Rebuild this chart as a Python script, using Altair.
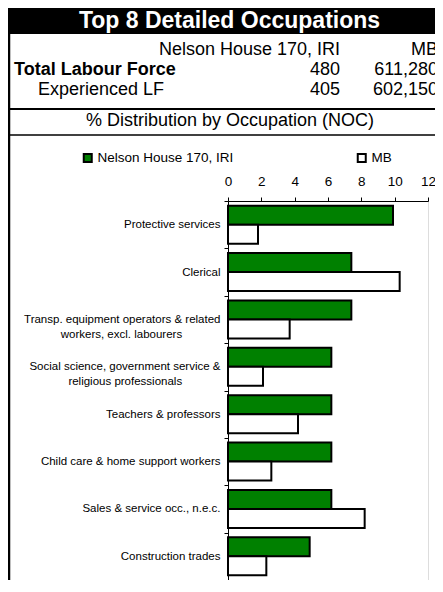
import altair as alt
import pandas as pd

# ---- data ----
series = ["Nelson House 170, IRI", "MB"]
occupations = [
    "Protective services",
    "Clerical",
    "Transp. equipment operators & related\nworkers, excl. labourers",
    "Social science, government service &\nreligious professionals",
    "Teachers & professors",
    "Child care & home support workers",
    "Sales & service occ., n.e.c.",
    "Construction trades",
]
nelson_pct = [9.9, 7.4, 7.4, 6.2, 6.2, 6.2, 6.2, 4.9]
mb_pct = [1.8, 10.3, 3.7, 2.1, 4.2, 2.6, 8.2, 2.3]
total_lf = [480, 611280]
experienced_lf = [405, 602150]
x_ticks = [0, 2, 4, 6, 8, 10, 12]
title_text = "Top 8 Detailed Occupations"
subtitle_text = "% Distribution by Occupation (NOC)"

FONT = "Liberation Sans, Arial, sans-serif"
PAD = "\u00a0" * 12 + "\u200b"

rows = []
for occ, a, b in zip(occupations, nelson_pct, mb_pct):
    rows.append({"occ": occ, "series": series[0], "pct": a})
    rows.append({"occ": occ, "series": series[1], "pct": b})
df = pd.DataFrame(rows)

label_expr = (
    "length(split(datum.label, '\\n')) > 1 ? "
    "[split(datum.label, '\\n')[0], split(datum.label, '\\n')[1] + '" + PAD + "'] "
    ": datum.label"
)

# plot origin in page pixels: x=228, y=201
OX, OY = 228, 201

bars = alt.Chart(df).mark_bar(stroke="black", strokeWidth=2).encode(
    x=alt.X(
        "pct:Q",
        scale=alt.Scale(domain=[0, 12], nice=False, zero=True),
        axis=alt.Axis(
            orient="top", values=x_ticks, title=None, grid=False,
            tickSize=4, labelPadding=9, labelFontSize=13.5, labelFont=FONT,
            labelColor="black", domainColor="black", tickColor="black",
            labelFlush=False,
        ),
    ),
    y=alt.Y(
        "occ:N",
        sort=occupations,
        scale=alt.Scale(paddingInner=0, paddingOuter=0),
        axis=alt.Axis(
            title=None, tickBand="extent", tickSize=4, labelPadding=4,
            labelFontSize=11.5, labelFont=FONT, labelColor="black",
            labelLimit=400, labelLineHeight=15, labelExpr=label_expr,
            domainColor="black", tickColor="black",
        ),
    ),
    yOffset=alt.YOffset(
        "series:N", sort=series,
        scale=alt.Scale(paddingInner=0, paddingOuter=0.25),
    ),
    fill=alt.Fill(
        "series:N",
        sort=series,
        scale=alt.Scale(domain=series, range=["#008000", "#ffffff"]),
        legend=alt.Legend(
            title=None, orient="none", legendX=81 - OX, legendY=151 - OY,
            direction="horizontal", columnPadding=119,
            symbolType="square", symbolSize=64, symbolStrokeColor="black",
            symbolStrokeWidth=2, labelFontSize=13.5, labelFont=FONT,
            labelColor="black", labelOffset=3,
        ),
    ),
)

one = pd.DataFrame({"a": [0]})


def txt(s, x, y, align="left", bold=False, size=18, color="black"):
    return alt.Chart(pd.DataFrame({"t": [s]})).mark_text(
        align=align, baseline="middle", font=FONT, fontSize=size,
        fontWeight="bold" if bold else "normal", color=color,
    ).encode(text="t:N", x=alt.value(x - OX), y=alt.value(y - OY))


title_box = alt.Chart(one).mark_rect(color="black").encode(
    x=alt.value(8 - OX), x2=alt.value(443 - OX), y=alt.value(0 - OY), y2=alt.value(34 - OY)
)
left_border = alt.Chart(one).mark_rule(color="black", strokeWidth=2.5).encode(
    x=alt.value(9 - OX), y=alt.value(0 - OY), y2=alt.value(600 - OY)
)
line1 = alt.Chart(one).mark_rule(color="black", strokeWidth=2).encode(
    x=alt.value(8 - OX), x2=alt.value(443 - OX), y=alt.value(109 - OY)
)
line2 = alt.Chart(one).mark_rule(color="black", strokeWidth=1.5).encode(
    x=alt.value(8 - OX), x2=alt.value(443 - OX), y=alt.value(135 - OY)
)

RIGHT_COL = 438
layers = [
    title_box, left_border, line1, line2,
    txt(title_text, 229.5, 21, align="center", bold=True, size=23, color="white"),
    txt(series[0], 340, 50, align="right"),
    txt(series[1], RIGHT_COL, 50, align="right"),
    txt("Total Labour Force", 14, 70, bold=True),
    txt(f"{total_lf[0]:,}", 340, 70, align="right"),
    txt(f"{total_lf[1]:,}", RIGHT_COL, 70, align="right"),
    txt("Experienced LF", 38, 90),
    txt(f"{experienced_lf[0]:,}", 340, 90, align="right"),
    txt(f"{experienced_lf[1]:,}", RIGHT_COL, 90, align="right"),
    txt(subtitle_text, 230, 121, align="center"),
    bars,
]

chart = alt.layer(*layers).properties(
    width=200, height=379,
    autosize=alt.AutoSizeParams(type="none"),
    padding={"left": OX - 8, "top": OY - 8, "right": 7, "bottom": 0},
).configure_view(stroke=None).configure(background="white")

chart.save("out.html", embed_options={"renderer": "svg", "actions": False})
